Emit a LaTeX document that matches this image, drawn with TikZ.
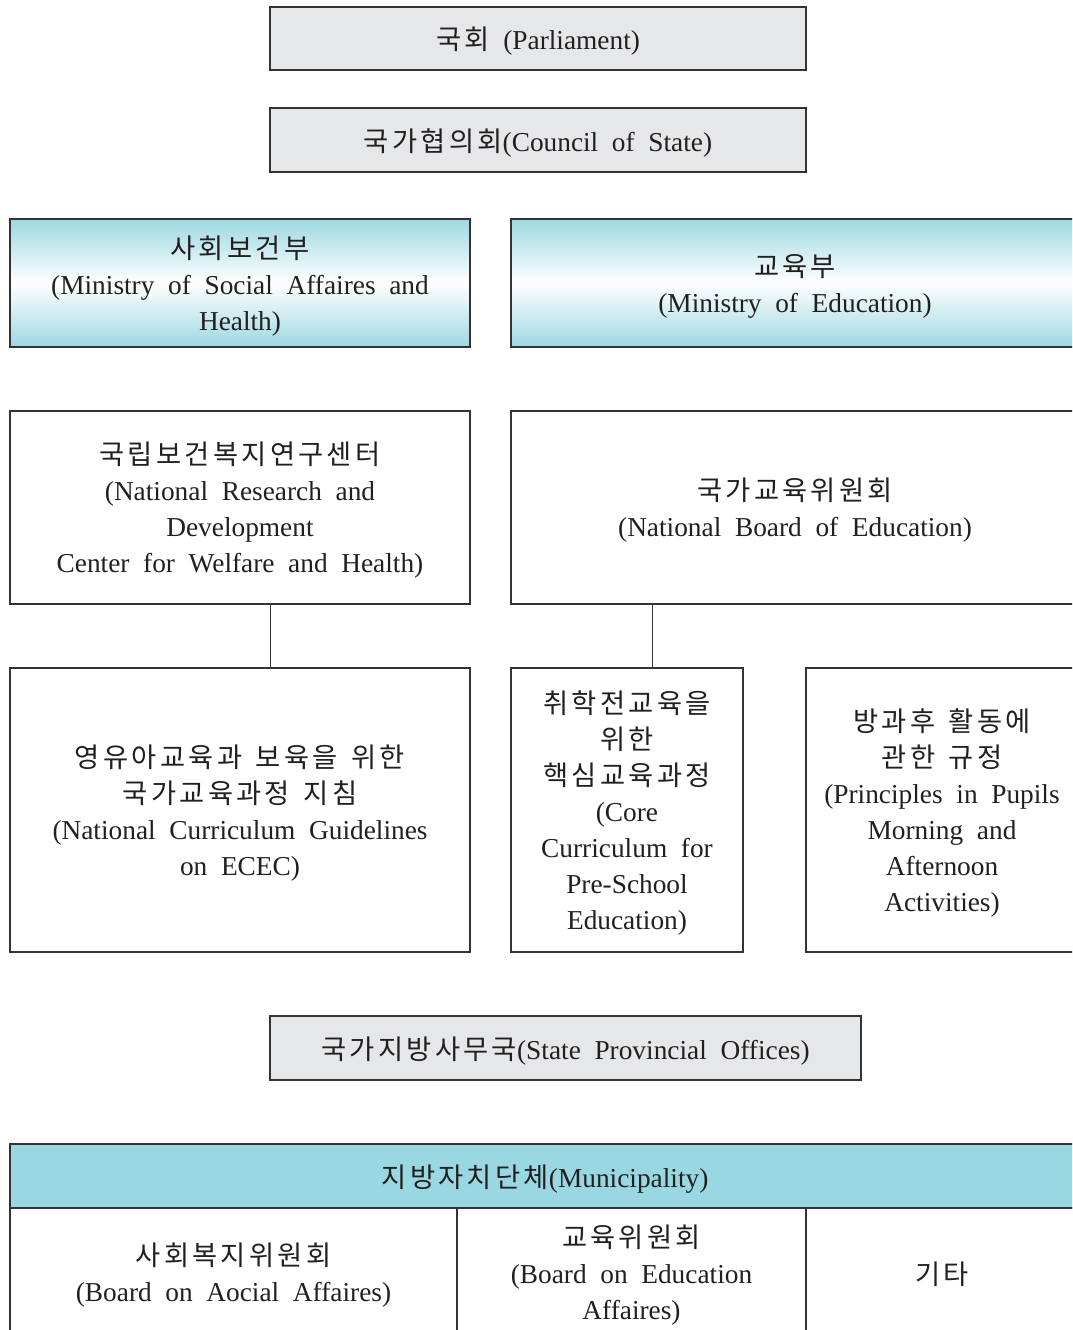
\documentclass[tikz,border=0pt]{standalone}
\usepackage{fontspec}
\setmainfont{Liberation Serif}
\newfontfamily\kr[LetterSpace=12]{Noto Sans CJK KR}
\newcommand\K[1]{{\kr #1}}
\newcommand\bodyfont{\fontsize{20.5}{27}\selectfont\spaceskip=0.5em plus 0.1em}
\newcommand\topstrut{\rule{0pt}{21pt}}
\definecolor{boxgray}{HTML}{E6E7E8}
\definecolor{edge}{HTML}{333333}
\definecolor{cyanA}{HTML}{9DD8E2}
\definecolor{cyanH}{HTML}{99D8E2}
\definecolor{ink}{HTML}{231F20}
\tikzset{
  box/.style={draw=edge, line width=0.8pt, rectangle, inner sep=0pt, align=center,
    font=\bodyfont, text=ink},
  graybox/.style={box, fill=boxgray},
  gradbox/.style={box, top color=cyanA, bottom color=cyanA, middle color=white},
  whitebox/.style={box, fill=white},
  conn/.style={draw=edge, line width=0.7pt}
}
\begin{document}
\begin{tikzpicture}[x=0.75pt,y=-0.75pt]
\clip (0,0) rectangle (1072,1330);
\fill[white] (0,0) rectangle (1072,1330);
% top gray boxes
\node[graybox, minimum width=402pt, minimum height=47.25pt] (parl) at (538,38.5) {\topstrut\K{국회}\enspace(Parliament)};
\node[graybox, minimum width=402pt, minimum height=48pt] (council) at (538,140) {\topstrut\K{국가협의회}(Council of State)};
% ministries
\node[gradbox, minimum width=345pt, minimum height=96pt] (msa) at (240,283)
  {\topstrut\K{사회보건부}\\(Ministry of Social Affaires and\\Health)};
\node[gradbox, minimum width=426pt, minimum height=96pt] (moe) at (795,283)
  {\topstrut\K{교육부}\\(Ministry of Education)};
% agencies
\node[whitebox, minimum width=345pt, minimum height=144.75pt] (nrd) at (240,507.5)
  {\topstrut\K{국립보건복지연구센터}\\(National Research and\\Development\\Center for Welfare and Health)};
\node[whitebox, minimum width=426pt, minimum height=144.75pt] (nbe) at (795,507.5)
  {\topstrut\K{국가교육위원회}\\(National Board of Education)};
% curricula
\node[whitebox, minimum width=345pt, minimum height=213pt] (ecec) at (240,810)
  {\topstrut\K{영유아교육과 보육을 위한}\\\K{국가교육과정 지침}\\(National Curriculum Guidelines\\on ECEC)};
\node[whitebox, minimum width=174pt, minimum height=213pt] (core) at (627,810)
  {\topstrut\K{취학전교육을}\\\K{위한}\\\K{핵심교육과정}\\(Core\\Curriculum for\\Pre-School\\Education)};
\node[whitebox, minimum width=204pt, minimum height=213pt] (pupil) at (942,810)
  {\topstrut\K{방과후 활동에}\\\K{관한 규정}\\(Principles in Pupils\\Morning and\\Afternoon\\Activities)};
% connectors
\coordinate (cx1) at (270,0);
\coordinate (cx2) at (652,0);
\draw[conn] (nrd.south -| cx1) -- (ecec.north -| cx1);
\draw[conn] (nbe.south -| cx2) -- (core.north -| cx2);
% state provincial offices
\node[graybox, minimum width=443.25pt, minimum height=48pt] (spo) at (565.5,1048)
  {\topstrut\K{국가지방사무국}(State Provincial Offices)};
% municipality
\node[box, fill=cyanH, minimum width=802.5pt, minimum height=48pt] (muni) at (545,1176)
  {\topstrut\K{지방자치단체}(Municipality)};
\node[whitebox, minimum width=335.25pt, minimum height=96pt] (bsa) at (233.5,1272)
  {\topstrut\K{사회복지위원회}\\(Board on Aocial Affaires)};
\node[whitebox, minimum width=261.75pt, minimum height=96pt] (bea) at (631.5,1272)
  {\topstrut\K{교육위원회}\\(Board on Education\\Affaires)};
\node[whitebox, minimum width=204pt, minimum height=96pt] (etc) at (942,1272)
  {\topstrut\K{기타}};
\end{tikzpicture}
\end{document}
